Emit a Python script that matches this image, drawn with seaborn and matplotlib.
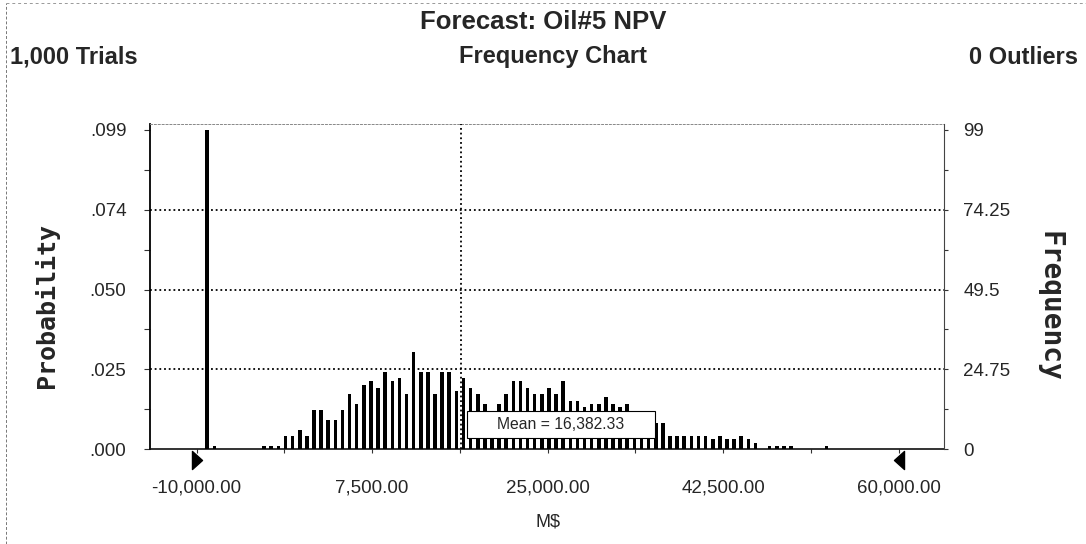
import numpy as np
import pandas as pd
import seaborn as sns
import matplotlib.pyplot as plt
from matplotlib.path import Path
from matplotlib.patches import Rectangle
from matplotlib.lines import Line2D
import matplotlib.transforms as mtransforms

# ---- forecast data: Oil#5 NPV, 1,000 trials, 100 frequency bins ----
trials = 1000
outliers = 0
bin_lo = -10000
bin_width = 710
counts = [
    0, 99, 1, 0, 0, 0, 0, 0, 0, 1,
    1, 1, 4, 4, 6, 4, 12, 12, 9, 9,
    12, 17, 14, 20, 21, 19, 24, 21, 22, 17,
    30, 24, 24, 17, 24, 24, 18, 22, 19, 17,
    14, 11, 14, 17, 21, 21, 19, 17, 17, 19,
    17, 21, 15, 15, 13, 14, 14, 16, 14, 13,
    14, 10, 9, 9, 8, 8, 4, 4, 4, 4,
    4, 4, 3, 4, 3, 3, 4, 3, 2, 0,
    1, 1, 1, 1, 0, 0, 0, 0, 1, 0,
    0, 0, 0, 0, 0, 0, 0, 0, 0, 0,
]
mean_value = 16382.33
range_min, range_max = -10000, 60000

x_ticks = [-10000, 7500, 25000, 42500, 60000]
x_labels = ["-10,000.00", "7,500.00", "25,000.00", "42,500.00", "60,000.00"]
prob_ticks = [0.0, 0.02475, 0.0495, 0.07425, 0.099]
prob_labels = [".000", ".025", ".050", ".074", ".099"]
freq_ticks = [0, 24.75, 49.5, 74.25, 99]
freq_labels = ["0", "24.75", "49.5", "74.25", "99"]

centers = bin_lo + bin_width * (np.arange(len(counts)) + 0.5)
df = pd.DataFrame({"npv": centers, "probability": np.array(counts) / trials})

sns.set_style("white")
plt.rcParams["font.family"] = ["Liberation Sans", "DejaVu Sans"]

W, H = 1086, 544
fig = plt.figure(figsize=(W / 100, H / 100), dpi=100)
ax = fig.add_axes([150 / W, 1 - 449 / H, 794 / W, 325 / H])

sns.barplot(data=df, x="npv", y="probability", native_scale=True,
            color="black", saturation=1, width=0.5, linewidth=0,
            errorbar=None, ax=ax, zorder=3)

upp = (range_max - range_min) / 702.0
ax.set_xlim(range_min - 46.5 * upp, range_max + 45.5 * upp)
ymax = 0.099 + 6 * 0.099 / 319
ax.set_ylim(0, ymax)

ax.set_xlabel("")
ax.set_ylabel("")
ax.set_xticks(x_ticks)
ax.set_xticklabels(x_labels)
ax.set_xticks([(a + b) / 2 for a, b in zip(x_ticks[:-1], x_ticks[1:])], minor=True)
ax.set_yticks(prob_ticks)
ax.set_yticklabels(prob_labels)
ax.set_yticks([(a + b) / 2 for a, b in zip(prob_ticks[:-1], prob_ticks[1:])], minor=True)

ax.tick_params(axis="y", which="both", left=True, direction="out", length=4,
               width=0.8, color="#333333", labelsize=13.5, pad=13)
ax.tick_params(axis="x", which="both", bottom=True, direction="out", length=3,
               width=0.8, color="#333333", labelsize=13.5, pad=19)

# dotted grid lines and mean marker
for v in prob_ticks[1:-1]:
    ax.axhline(v, color="black", lw=1.3, ls=(0, (1, 1.6)), zorder=2)
ax.axvline(mean_value, color="black", lw=1.3, ls=(0, (1, 1.6)), zorder=4)

# frame
ax.spines["left"].set_color("black")
ax.spines["left"].set_linewidth(1.3)
ax.spines["bottom"].set_color("#111111")
ax.spines["bottom"].set_linewidth(1.2)
ax.spines["top"].set_color("#888888")
ax.spines["top"].set_linewidth(0.7)
ax.spines["top"].set_linestyle((0, (2, 2)))
ax.spines["right"].set_visible(False)

# frequency scale on the right
ax2 = ax.twinx()
ax2.set_ylim(0, ymax * trials)
ax2.set_yticks(freq_ticks)
ax2.set_yticklabels(freq_labels)
ax2.set_yticks([(a + b) / 2 for a, b in zip(freq_ticks[:-1], freq_ticks[1:])], minor=True)
ax2.tick_params(axis="y", which="both", right=True, direction="out", length=3,
                width=0.8, color="#333333", labelsize=13.5, pad=11)
ax2.grid(False)
for s in ["left", "top", "bottom"]:
    ax2.spines[s].set_visible(False)
ax2.spines["right"].set_color("#444444")
ax2.spines["right"].set_linewidth(0.8)

# display-range grabbers under the axis
tri_r = Path([(-0.5, -0.9), (0.5, 0.0), (-0.5, 0.9), (-0.5, -0.9)],
             [Path.MOVETO, Path.LINETO, Path.LINETO, Path.CLOSEPOLY])
tri_l = Path([(0.5, -0.9), (-0.5, 0.0), (0.5, 0.9), (0.5, -0.9)],
             [Path.MOVETO, Path.LINETO, Path.LINETO, Path.CLOSEPOLY])
btrans = mtransforms.blended_transform_factory(ax.transData, ax.transAxes)
ax.plot([range_min], [-0.034], marker=tri_r, markersize=13, color="black",
        transform=btrans, clip_on=False, ls="none")
ax.plot([range_max], [-0.034], marker=tri_l, markersize=13, color="black",
        transform=btrans, clip_on=False, ls="none")

# mean annotation box
box_x0 = mean_value + 6 * upp
box_w = 188 * upp
box_y0 = 11 * 0.099 / 319
box_h = 27.3 * 0.099 / 319
ax.add_patch(Rectangle((box_x0, box_y0), box_w, box_h, facecolor="white",
                       edgecolor="black", lw=0.8, zorder=5))
ax.text(box_x0 + box_w / 2, box_y0 + box_h / 2, f"Mean = {mean_value:,.2f}",
        ha="center", va="center", fontsize=11.3, zorder=6)

# headings
fig.text(543 / W, 1 - 22 / H, "Forecast: Oil#5 NPV", ha="center", va="center",
         fontsize=18.5, fontweight="bold")
fig.text(10 / W, 1 - 57 / H, f"{trials:,} Trials", ha="left", va="center",
         fontsize=17, fontweight="bold")
fig.text(553 / W, 1 - 57 / H, "Frequency Chart", ha="center", va="center",
         fontsize=17, fontweight="bold")
fig.text(1078 / W, 1 - 57 / H, f"{outliers} Outliers", ha="right", va="center",
         fontsize=17, fontweight="bold")
fig.text(47 / W, 1 - 305 / H, "Probability", ha="center", va="center",
         rotation=90, fontsize=18, fontweight="bold", family="DejaVu Sans Mono")
fig.text(1050 / W, 1 - 306 / H, "Frequency", ha="center", va="center",
         rotation=270, fontsize=20, fontweight="bold", family="DejaVu Sans Mono")
fig.text(548 / W, 1 - 522 / H, "M$", ha="center", va="center", fontsize=13)

# outer panel border
fig.add_artist(Line2D([6 / W, 6 / W], [0, 1 - 3 / H], transform=fig.transFigure,
                      color="#777777", lw=0.7, ls=(0, (3, 2))))
fig.add_artist(Line2D([6 / W, 1], [1 - 3 / H, 1 - 3 / H], transform=fig.transFigure,
                      color="#999999", lw=0.7, ls=(0, (3, 3))))

fig.savefig("out.png", dpi=100)
